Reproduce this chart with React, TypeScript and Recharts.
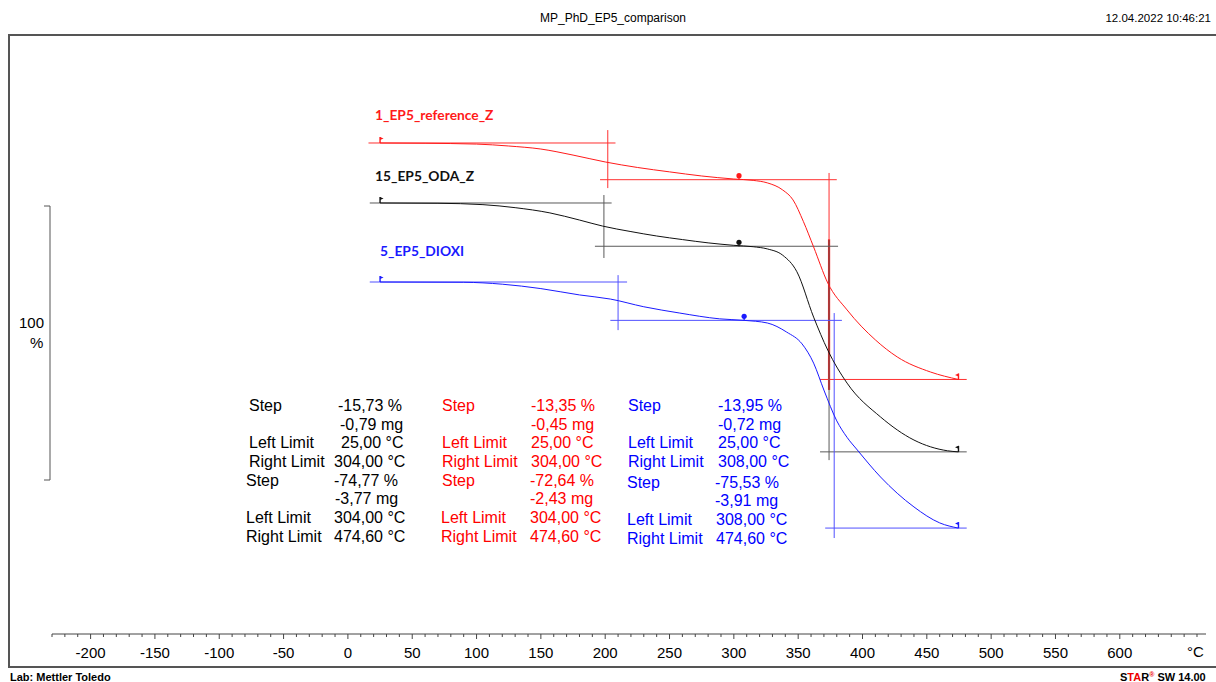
import React from "react";
import { LineChart, Line, XAxis, YAxis, ReferenceLine, ReferenceDot } from "recharts";

// TGA curves: temperature (°C) and weight (%)
const redTemp = [25, 60, 100, 125, 150, 175, 200, 225, 250, 275, 300, 315, 326, 338, 346, 354, 362, 373, 388, 410, 427, 453, 474.6];
const redWeight = [100, 99.9, 99.6, 98.9, 97.8, 95.6, 93.1, 91.1, 89.5, 88.0, 86.9, 86.4, 85.5, 82.9, 79.3, 71.5, 62.2, 49.1, 39.3, 28.4, 22.2, 16.7, 14.0];

const blackTemp = [25, 70, 105, 130, 157, 180, 198, 220, 240, 260, 280, 300, 315, 326, 338, 349, 362, 373, 388, 414, 440, 466, 474.6];
const blackWeight = [100, 99.9, 99.4, 98.3, 96.4, 93.8, 91.6, 89.6, 88.0, 86.7, 85.5, 84.6, 84.1, 83.3, 81.0, 75.0, 58.5, 46.5, 34.5, 22.2, 13.8, 9.9, 9.5];

const blueTemp = [25, 90, 120, 150, 180, 204, 230, 258, 289, 308, 326, 341, 353, 362, 370, 380, 388, 396, 414, 440, 460, 474.6];
const blueWeight = [100, 99.9, 99.2, 97.6, 95.3, 93.8, 91.0, 88.7, 86.6, 86.05, 85.1, 81.8, 77.5, 70.5, 60.7, 49.5, 43.5, 38.9, 29.1, 18.2, 12.4, 10.5];

// step evaluation limits (°C) and levels (%)
const redLevels = [100, 86.65, 14.01];
const blackLevels = [100, 84.27, 9.5];
const blueLevels = [100, 86.05, 10.52];
const leftLimit = 25;
const midLimits = { red: 304, black: 304, blue: 308 };
const rightLimit = 474.6;

const majorTicks = [-200, -150, -100, -50, 0, 50, 100, 150, 200, 250, 300, 350, 400, 450, 500, 550, 600];
const minorTicks = Array.from({ length: 90 }, (_, i) => -230 + i * 10);

const resultLabels = ["Step", "", "Left Limit", "Right Limit", "Step", "", "Left Limit", "Right Limit"];
const blackResults = ["-15,73 %", "-0,79 mg", "25,00 °C", "304,00 °C", "-74,77 %", "-3,77 mg", "304,00 °C", "474,60 °C"];
const redResults = ["-13,35 %", "-0,45 mg", "25,00 °C", "304,00 °C", "-72,64 %", "-2,43 mg", "304,00 °C", "474,60 °C"];
const blueResults = ["-13,95 %", "-0,72 mg", "25,00 °C", "308,00 °C", "-75,53 %", "-3,91 mg", "308,00 °C", "474,60 °C"];

const toPoints = (temps: number[], weights: number[]) => temps.map((t, i) => ({ t, w: weights[i] }));

const RED = "#ff1a1a";
const BLACK = "#111";
const BLUE = "#1a1aff";
const ARIAL = "'Liberation Sans', Arial, sans-serif";

// each curve is shifted on the page, so each gets its own hidden y axis
const axes = [
  { id: "red", domain: [-78.55, 137.45], color: RED, guide: "#ff3030" },
  { id: "black", domain: [-56.73, 159.27], color: BLACK, guide: "#5a5a5a" },
  { id: "blue", domain: [-28, 188], color: BLUE, guide: "#5050ff" },
];

const AxisTick = (props: any) => {
  const { x, y, payload } = props;
  const major = majorTicks.includes(payload.value);
  return (
    <g>
      <line x1={x} x2={x} y1={y} y2={y + (major ? 5 : 3)} stroke="#444" />
      {major && (
        <text x={x} y={y + 24} textAnchor="middle" fontSize={15} fontFamily={ARIAL} fill="#000">
          {payload.value}
        </text>
      )}
    </g>
  );
};

const marker = (kind: string, color: string) => (props: any) => {
  const { cx, cy } = props;
  if (kind === "mid") {
    return (
      <g>
        <line x1={cx} x2={cx} y1={cy} y2={cy - 4} stroke={color} strokeWidth={1.2} />
        <circle cx={cx} cy={cy - 4} r={2.6} fill={color} />
      </g>
    );
  }
  const dir = kind === "start" ? 1 : -1;
  return (
    <g>
      <line x1={cx} x2={cx} y1={cy} y2={cy - 6} stroke={color} strokeWidth={1.4} />
      <path d={`M${cx},${cy - 6} L${cx + 3.5 * dir},${cy - 4.5} L${cx},${cy - 3} Z`} fill={color} />
    </g>
  );
};

type Guide = { x1: number; y1: number; x2: number; y2: number; w?: number };

const guides: Record<string, Guide[]> = {
  red: [
    { x1: 16, y1: redLevels[0], x2: 208, y2: redLevels[0] },
    { x1: 202, y1: 104.7, x2: 202, y2: 83.6 },
    { x1: 196, y1: redLevels[1], x2: 380, y2: redLevels[1] },
    { x1: 374, y1: 89.1, x2: 374, y2: 65 },
    { x1: 374, y1: 65, x2: 374, y2: 10.2, w: 2.2 },
    { x1: 367, y1: redLevels[2], x2: 481, y2: redLevels[2] },
  ],
  black: [
    { x1: 17, y1: blackLevels[0], x2: 205, y2: blackLevels[0] },
    { x1: 199, y1: 102.9, x2: 199, y2: 80 },
    { x1: 192, y1: blackLevels[1], x2: 381, y2: blackLevels[1] },
    { x1: 374, y1: 86.5, x2: 374, y2: 6.5 },
    { x1: 367, y1: blackLevels[2], x2: 481, y2: blackLevels[2] },
  ],
  blue: [
    { x1: 17, y1: blueLevels[0], x2: 217, y2: blueLevels[0] },
    { x1: 210, y1: 102.5, x2: 210, y2: 82.5 },
    { x1: 204, y1: blueLevels[1], x2: 384, y2: blueLevels[1] },
    { x1: 378, y1: 88.7, x2: 378, y2: 6.9 },
    { x1: 371, y1: blueLevels[2], x2: 481, y2: blueLevels[2] },
  ],
};

const series = [
  { id: "red", data: toPoints(redTemp, redWeight), levels: redLevels, mid: midLimits.red },
  { id: "black", data: toPoints(blackTemp, blackWeight), levels: blackLevels, mid: midLimits.black },
  { id: "blue", data: toPoints(blueTemp, blueWeight), levels: blueLevels, mid: midLimits.blue },
];

const ResultColumn = ({ color, labelX, valueX, values, rowY }: any) => (
  <g fill={color} fontFamily={ARIAL} fontSize={16}>
    {resultLabels.map((l, i) =>
      l ? (
        <text key={"l" + i} x={labelX[i]} y={rowY[i] + 5.6}>
          {l}
        </text>
      ) : null
    )}
    {values.map((v: string, i: number) => (
      <text key={"v" + i} x={valueX[i]} y={rowY[i] + 5.6}>
        {v}
      </text>
    ))}
  </g>
);

const rowsY = [405, 424, 442, 461, 480, 498, 517, 536];
const blueRowsY = [405, 424, 442, 461, 482, 500, 519, 538];

export default function App() {
  return (
    <div style={{ position: "absolute", left: 0, top: 0, width: 1216, height: 682, background: "#fff", overflow: "hidden" }}>
      <div style={{ position: "absolute", left: 0, top: 0 }}>
        <LineChart width={1216} height={682} margin={{ top: 40, right: 10, bottom: 18, left: 52 }}>
          <XAxis
            type="number"
            dataKey="t"
            domain={[-230, 667]}
            ticks={minorTicks}
            interval={0}
            tick={<AxisTick />}
            tickLine={false}
            tickSize={0}
            tickMargin={0}
            height={30}
            axisLine={{ stroke: "#444", strokeWidth: 1 }}
            allowDataOverflow
          />
          {axes.map((a) => (
            <YAxis key={a.id} yAxisId={a.id} type="number" domain={a.domain} hide allowDataOverflow />
          ))}
          {axes.map((a) =>
            guides[a.id].map((g, i) => (
              <ReferenceLine
                key={a.id + i}
                yAxisId={a.id}
                segment={[{ x: g.x1, y: g.y1 }, { x: g.x2, y: g.y2 }]}
                stroke={g.w ? a.color : a.guide}
                strokeWidth={g.w ?? 1}
                ifOverflow="visible"
              />
            ))
          )}
          {series.map((s) => {
            const color = axes.find((a) => a.id === s.id)!.color;
            return (
              <Line
                key={s.id}
                yAxisId={s.id}
                data={s.data}
                dataKey="w"
                type="monotone"
                stroke={color}
                strokeWidth={1}
                dot={false}
                isAnimationActive={false}
              />
            );
          })}
          {series.map((s) => {
            const color = axes.find((a) => a.id === s.id)!.color;
            return [
              <ReferenceDot key={s.id + "s"} yAxisId={s.id} x={leftLimit} y={s.levels[0]} r={0} shape={marker("start", color)} ifOverflow="visible" />,
              <ReferenceDot key={s.id + "m"} yAxisId={s.id} x={s.mid} y={s.levels[1]} r={0} shape={marker("mid", color)} ifOverflow="visible" />,
              <ReferenceDot key={s.id + "e"} yAxisId={s.id} x={rightLimit} y={s.levels[2]} r={0} shape={marker("end", color)} ifOverflow="visible" />,
            ];
          })}
        </LineChart>
      </div>
      <svg width={1216} height={682} style={{ position: "absolute", left: 0, top: 0, pointerEvents: "none" }}>
        {/* page frame */}
        <line x1={9} x2={1216} y1={35} y2={35} stroke="#555" strokeWidth={2} />
        <line x1={9} x2={9} y1={34} y2={668} stroke="#555" strokeWidth={2} />
        <line x1={9} x2={1216} y1={667} y2={667} stroke="#555" strokeWidth={2} />

        <text x={613} y={22} textAnchor="middle" fontSize={12} fontFamily={ARIAL} fill="#000">
          MP_PhD_EP5_comparison
        </text>
        <text x={1211} y={22} textAnchor="end" fontSize={11.5} fontFamily={ARIAL} fill="#000">
          12.04.2022 10:46:21
        </text>

        {/* 100 % scale bar */}
        <path d="M44,206 L50,206 L50,480 L44,480" fill="none" stroke="#555" strokeWidth={1} />
        <text x={19} y={328} fontSize={15} fontFamily={ARIAL} fill="#000">
          100
        </text>
        <text x={30} y={348} fontSize={15} fontFamily={ARIAL} fill="#000">
          %
        </text>
        <text x={1187} y={657} fontSize={15} fontFamily={ARIAL} fill="#000">
          °C
        </text>

        {/* curve names */}
        <g fontFamily="Lato, 'Open Sans', sans-serif" fontWeight="bold" fontSize={13.8}>
          <text x={375} y={119.5} fill={RED}>1_EP5_reference_Z</text>
          <text x={375} y={180.5} fill={BLACK}>15_EP5_ODA_Z</text>
          <text x={380} y={255.5} fill={BLUE}>5_EP5_DIOXI</text>
        </g>

        <ResultColumn
          color="#000"
          labelX={[249, 0, 249, 249, 246, 0, 246, 246]}
          valueX={[338, 340, 341, 334, 334, 335, 334, 334]}
          values={blackResults}
          rowY={rowsY}
        />
        <ResultColumn
          color="#ff0000"
          labelX={[442, 0, 442, 442, 442, 0, 441, 441]}
          valueX={[531, 531, 531, 531, 530, 530, 530, 530]}
          values={redResults}
          rowY={rowsY}
        />
        <ResultColumn
          color="#0000ff"
          labelX={[628, 0, 628, 628, 627, 0, 627, 627]}
          valueX={[718, 718, 718, 718, 715, 715, 716, 716]}
          values={blueResults}
          rowY={blueRowsY}
        />

        <text x={10} y={681} fontSize={11} fontWeight="bold" fontFamily={ARIAL} fill="#000">
          Lab: Mettler Toledo
        </text>
        <text x={1120} y={681} fontSize={11} fontWeight="bold" fontFamily={ARIAL} fill="#000">
          S<tspan fill="#e00">TA</tspan>R<tspan fill="#e00" fontSize={7} dy={-4}>®</tspan>
          <tspan dy={4}> SW 14.00</tspan>
        </text>
      </svg>
    </div>
  );
}
